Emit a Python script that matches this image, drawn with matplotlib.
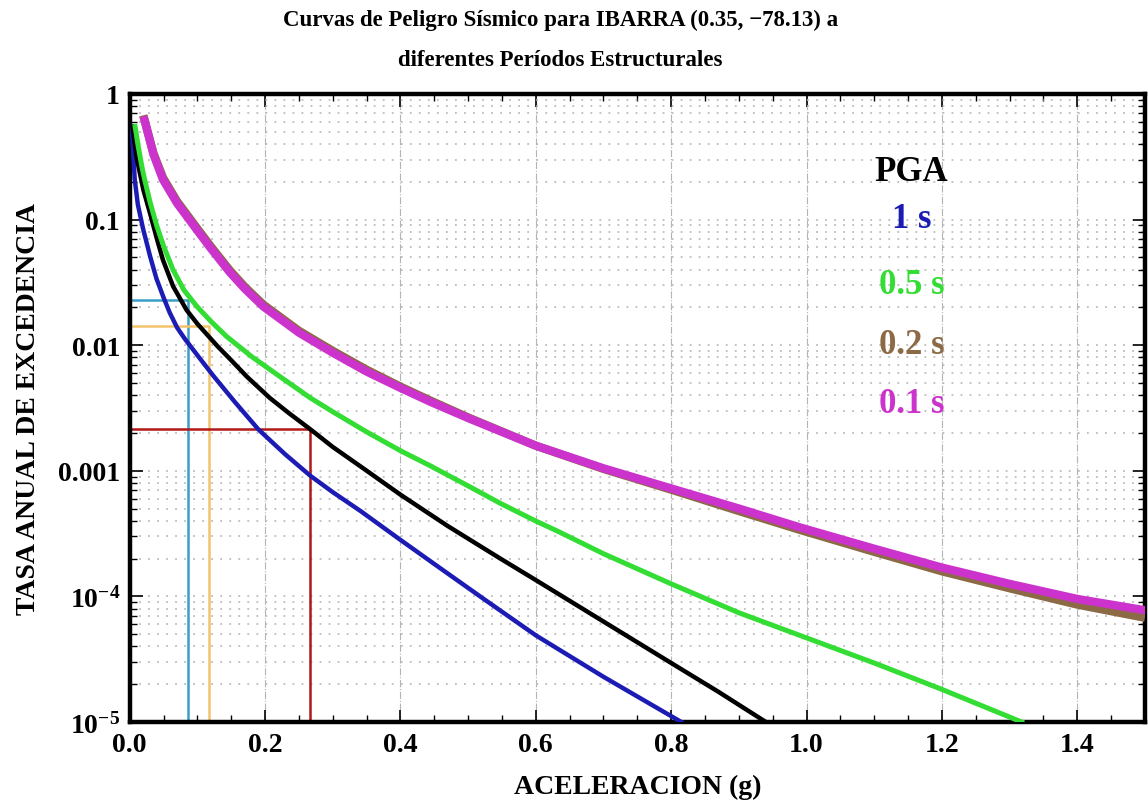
import matplotlib
matplotlib.use("Agg")
import matplotlib.pyplot as plt
import numpy as np
from matplotlib.ticker import FixedLocator, MultipleLocator, NullFormatter

plt.rcParams['font.family'] = ['Liberation Serif', 'DejaVu Serif']
plt.rcParams['font.weight'] = 'bold'
plt.rcParams['axes.labelweight'] = 'bold'
plt.rcParams['mathtext.fontset'] = 'custom'
plt.rcParams['mathtext.rm'] = 'Liberation Serif:bold'
plt.rcParams['mathtext.bf'] = 'Liberation Serif:bold'
plt.rcParams['mathtext.default'] = 'rm'

# curves: aceleracion (g) vs log10(tasa anual)
pga_x = [0.004, 0.01, 0.02, 0.03, 0.04, 0.049, 0.064, 0.084, 0.1, 0.115, 0.13, 0.15, 0.173, 0.207, 0.235,
         0.267, 0.3, 0.345, 0.4, 0.47, 0.548, 0.6, 0.7, 0.8, 0.87, 0.94]
pga_lg = [-0.26, -0.50, -0.76, -0.95, -1.15, -1.32, -1.53, -1.72, -1.83, -1.92, -2.01, -2.12, -2.25, -2.42, -2.54,
          -2.67, -2.81, -2.98, -3.19, -3.44, -3.70, -3.87, -4.2, -4.53, -4.76, -5.0]

t1_x = [0.003, 0.0074, 0.012, 0.0198, 0.03, 0.0395, 0.05, 0.059, 0.07, 0.0815, 0.1, 0.123, 0.155,
        0.19, 0.23, 0.267, 0.3, 0.341, 0.4, 0.46, 0.523, 0.6, 0.7, 0.815]
t1_lg = [-0.26, -0.68, -0.88, -1.075, -1.29, -1.47, -1.62, -1.74, -1.86, -1.95, -2.08, -2.24, -2.45,
         -2.67, -2.87, -3.04, -3.17, -3.32, -3.55, -3.78, -4.02, -4.31, -4.64, -5.0]

t05_x = [0.008, 0.012, 0.018, 0.022, 0.03, 0.04, 0.05, 0.064, 0.08, 0.099, 0.12, 0.143, 0.18, 0.222,
         0.267, 0.3, 0.35, 0.4, 0.444, 0.5, 0.548, 0.6, 0.632, 0.7, 0.8, 0.9, 0.99, 1.1, 1.2, 1.318]
t05_lg = [-0.26, -0.40, -0.58, -0.68, -0.86, -1.05, -1.21, -1.40, -1.56, -1.69, -1.81, -1.93, -2.09, -2.25,
          -2.42, -2.53, -2.69, -2.84, -2.96, -3.12, -3.26, -3.40, -3.48, -3.66, -3.90, -4.13, -4.31, -4.53,
          -4.74, -5.0]

t02_x = [0.02, 0.035, 0.049, 0.07, 0.099, 0.12, 0.148, 0.17, 0.197, 0.25, 0.3, 0.35, 0.4, 0.444,
         0.5, 0.6, 0.7, 0.8, 0.9, 0.99, 1.1, 1.2, 1.3, 1.4, 1.5]
t02_lg = [-0.17, -0.47, -0.665, -0.855, -1.065, -1.215, -1.405, -1.535, -1.675, -1.885, -2.045, -2.195,
          -2.33, -2.44, -2.575, -2.80, -2.985, -3.15, -3.32, -3.47, -3.645, -3.80, -3.935, -4.065, -4.17]

t01_x = [0.022, 0.035, 0.049, 0.07, 0.099, 0.12, 0.148, 0.17, 0.197, 0.25, 0.3, 0.35, 0.4, 0.444,
         0.5, 0.6, 0.7, 0.8, 0.9, 0.99, 1.1, 1.2, 1.3, 1.4, 1.5]
t01_lg = [-0.21, -0.48, -0.68, -0.87, -1.08, -1.23, -1.42, -1.55, -1.69, -1.90, -2.06, -2.21, -2.34, -2.45,
          -2.58, -2.80, -2.98, -3.14, -3.30, -3.45, -3.62, -3.77, -3.90, -4.02, -4.11]

# design levels marked near the PGA curve
ref_x = [0.086, 0.117, 0.267]
ref_y = [0.023, 0.0142, 0.00215]
ref_colors = ['#3a9fc6', '#f2c46a', '#b01818']

yticks = [1e-5, 1e-4, 1e-3, 1e-2, 1e-1, 1]
ylabels = [r'$10^{-5}$', r'$10^{-4}$', '0.001', '0.01', '0.1', '1']
xticks = [0.0, 0.2, 0.4, 0.6, 0.8, 1.0, 1.2, 1.4]

fig = plt.figure(figsize=(11.48, 8.03), dpi=100)
ax = fig.add_axes([0.113, 0.0996, 0.8843, 0.7821])

for xr, yr, c in zip(ref_x, ref_y, ref_colors):
    ax.plot([0, xr, xr], [yr, yr, 1e-5], color=c, lw=1.8, zorder=2)

ax.plot(t1_x, 10.0 ** np.array(t1_lg), color='#1c1cb4', lw=3.2, zorder=3)
ax.plot(pga_x, 10.0 ** np.array(pga_lg), color='black', lw=3.2, zorder=3)
ax.plot(t05_x, 10.0 ** np.array(t05_lg), color='#33dd33', lw=3.6, zorder=3)
ax.plot(t02_x, 10.0 ** np.array(t02_lg), color='#8c6a45', lw=6, zorder=3, solid_capstyle='butt')
ax.plot(t01_x, 10.0 ** np.array(t01_lg), color='#cc33cc', lw=6, zorder=4)

ax.set_yscale('log')
ax.set_xlim(0, 1.5)
ax.set_ylim(1e-5, 1)
ax.set_xticks(xticks)
ax.set_xticklabels(['%.1f' % v for v in xticks])
ax.xaxis.set_minor_locator(MultipleLocator(0.05))
ax.set_yticks(yticks)
ax.set_yticklabels(ylabels)
ax.yaxis.set_minor_locator(FixedLocator([m * 10.0**e for e in range(-5, 0) for m in range(2, 10)]))
ax.yaxis.set_minor_formatter(NullFormatter())

ax.tick_params(which='both', direction='in', top=True, right=True, labelsize=20, pad=7)
ax.tick_params(which='major', length=9, width=1.2)
ax.tick_params(which='minor', length=5, width=1)

ax.grid(True, which='major', axis='x', color='#b4b4b4', ls='-.', lw=0.8)
ax.grid(True, which='both', axis='y', color='#bcbcbc', ls=(0, (1, 4)), lw=1.3)
for s in ax.spines.values():
    s.set_linewidth(3.2)

ax.set_xlabel('ACELERACION (g)', fontsize=20, labelpad=12)
ax.set_ylabel('TASA ANUAL DE EXCEDENCIA', fontsize=20, labelpad=12)

fig.text(0.488, 0.975, 'Curvas de Peligro Sísmico para IBARRA (0.35, \u221278.13) a',
         ha='center', va='center', fontsize=16.5)
fig.text(0.488, 0.925, 'diferentes Períodos Estructurales',
         ha='center', va='center', fontsize=16.5)

labels = ['PGA', '1 s', '0.5 s', '0.2 s', '0.1 s']
label_colors = ['black', '#1c1cb4', '#33dd33', '#8c6a45', '#cc33cc']
label_y = [0.877, 0.801, 0.696, 0.601, 0.507]
for lab, c, yy in zip(labels, label_colors, label_y):
    ax.text(0.77, yy, lab, color=c, fontsize=25, ha='center', va='center',
            transform=ax.transAxes, zorder=5)

fig.savefig('out.png', dpi=100)
